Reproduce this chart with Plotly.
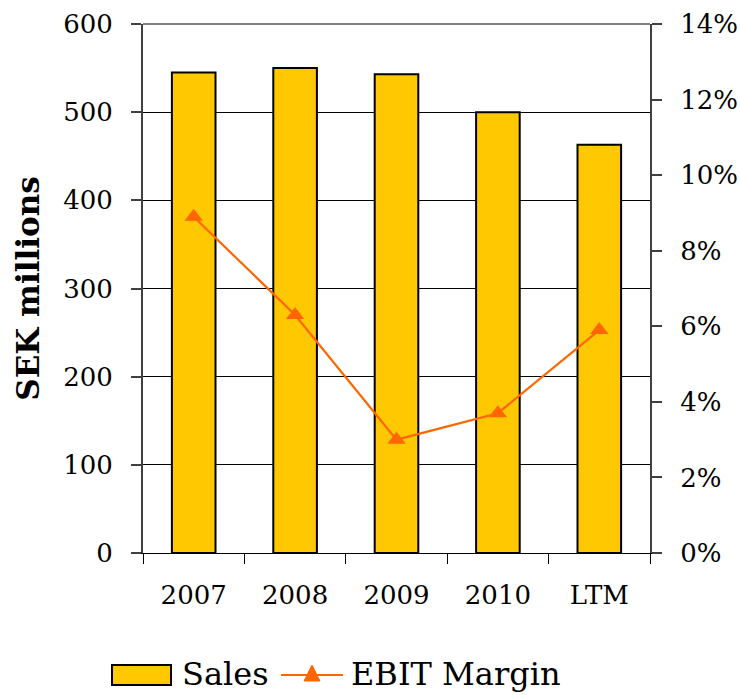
import plotly.graph_objects as go

# Annual sales and EBIT margin
periods = ["2007", "2008", "2009", "2010", "LTM"]
sales = [545, 550, 543, 500, 463]            # SEK millions
ebit_margin = [0.089, 0.063, 0.030, 0.037, 0.059]

left_ticks = [0, 100, 200, 300, 400, 500, 600]
right_ticks = [0, 0.02, 0.04, 0.06, 0.08, 0.10, 0.12, 0.14]

FONT = "DejaVu Serif"
BAR_COLOR = "#FFC800"
LINE_COLOR = "#FF6600"

# plot-area geometry in pixels (used for the hand-drawn legend)
L, R, T, B = 143, 650, 24, 553
W_PX, H_PX = R - L, B - T


def px_x(x):
    return (x - L) / W_PX


def px_y(y):
    return (B - y) / H_PX


fig = go.Figure()
fig.add_trace(go.Bar(
    x=periods, y=sales, name="Sales",
    marker=dict(color=BAR_COLOR, line=dict(color="black", width=2)),
    width=0.43,
))
fig.add_trace(go.Scatter(
    x=periods, y=ebit_margin, name="EBIT Margin", yaxis="y2",
    mode="lines+markers",
    line=dict(color=LINE_COLOR, width=2.2),
    marker=dict(symbol="triangle-up", size=16, color=LINE_COLOR),
))

fig.update_layout(
    width=740, height=695,
    margin=dict(l=L, r=740 - R, t=T, b=695 - B, autoexpand=False),
    plot_bgcolor="white", paper_bgcolor="white",
    showlegend=False,
    font=dict(family=FONT, size=26, color="black"),
    xaxis=dict(
        type="category", tickson="boundaries", automargin=False,
        ticks="outside", ticklen=10, tickcolor="black", tickwidth=1,
        showline=True, linecolor="black", linewidth=1,
        showgrid=False, ticklabelstandoff=19,
        tickfont=dict(family=FONT, size=26),
    ),
    yaxis=dict(
        range=[0, 600], tickvals=left_ticks, automargin=False,
        ticks="outside", ticklen=10, tickcolor="#404040", tickwidth=2,
        showline=True, linecolor="#404040", linewidth=2,
        showgrid=True, gridcolor="black", gridwidth=1,
        zeroline=False, ticklabelstandoff=13,
        tickfont=dict(family=FONT, size=26),
        title=dict(text="<b>SEK millions</b>", font=dict(family=FONT, size=31), standoff=14),
    ),
    yaxis2=dict(
        range=[0, 0.14], tickvals=right_ticks, tickformat=".0%",
        overlaying="y", side="right", automargin=False,
        ticks="outside", ticklen=10, tickcolor="#404040", tickwidth=2,
        showline=True, linecolor="#404040", linewidth=2,
        showgrid=False, zeroline=False, ticklabelstandoff=13,
        tickfont=dict(family=FONT, size=26),
    ),
)

# top border of the plot area
fig.add_shape(type="line", xref="paper", yref="paper", x0=0, x1=1, y0=1, y1=1,
              line=dict(color="#808080", width=2))

# legend drawn below the plot
fig.add_shape(type="rect", xref="paper", yref="paper",
              x0=px_x(112), x1=px_x(171), y0=px_y(685), y1=px_y(665),
              fillcolor=BAR_COLOR, line=dict(color="black", width=2))
fig.add_annotation(text="Sales", xref="paper", yref="paper",
                   x=px_x(180), y=px_y(674),
                   xanchor="left", yanchor="middle", showarrow=False,
                   font=dict(family=FONT, size=32))
fig.add_shape(type="line", xref="paper", yref="paper",
              x0=px_x(281), x1=px_x(343), y0=px_y(675), y1=px_y(675),
              line=dict(color=LINE_COLOR, width=2))
tri = "M {} {} L {} {} L {} {} Z".format(
    px_x(304), px_y(681), px_x(320), px_y(681), px_x(312), px_y(665))
fig.add_shape(type="path", xref="paper", yref="paper", path=tri,
              fillcolor=LINE_COLOR, line=dict(color=LINE_COLOR, width=1))
fig.add_annotation(text="EBIT Margin", xref="paper", yref="paper",
                   x=px_x(349), y=px_y(674),
                   xanchor="left", yanchor="middle", showarrow=False,
                   font=dict(family=FONT, size=32))

fig.write_html("out.html")
